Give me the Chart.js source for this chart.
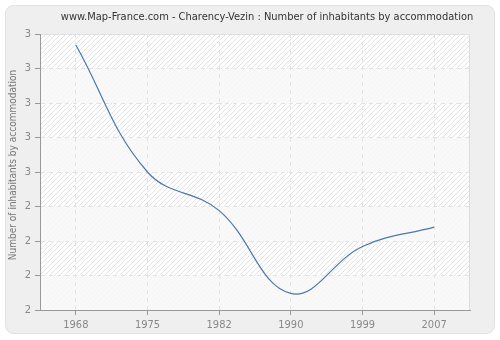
<!DOCTYPE html>
<html lang="en">
<head>
<meta charset="UTF-8" />
<title>Charency-Vezin - inhabitants by accommodation</title>
<script src="https://cdn.jsdelivr.net/npm/chart.js"></script>
<style>
* { box-sizing: border-box; }
body { margin: 0; background: #fff; }
#wrap { position: relative; width: 500px; height: 340px; }
</style>
</head>
<body>
<div id="wrap"><canvas id="popChart" width="500" height="340"></canvas></div>
<script>
// census years and average inhabitants per dwelling
const years = ['1968', '1975', '1982', '1990', '1999', '2007'];
const perHousing = [2.96, 2.50, 2.36, 2.06, 2.23, 2.30];
const yMin = 2, yMax = 3, yStep = 0.125;

const titleText = 'www.Map-France.com - Charency-Vezin : Number of inhabitants by accommodation';
const yTitleText = 'Number of inhabitants by accommodation';
const FONT = "'DejaVu Sans Condensed', 'DejaVu Sans', sans-serif";

// diagonal hatch used as plot background
function makeHatch() {
    const s = 5;
    const c = document.createElement('canvas');
    c.width = s; c.height = s;
    const g = c.getContext('2d');
    g.fillStyle = '#ffffff';
    g.fillRect(0, 0, s, s);
    g.strokeStyle = '#e4e4e4';
    g.lineWidth = 1;
    g.beginPath();
    g.moveTo(0, s); g.lineTo(s, 0);
    g.moveTo(-1, 1); g.lineTo(1, -1);
    g.moveTo(s - 1, s + 1); g.lineTo(s + 1, s - 1);
    g.stroke();
    return g.createPattern(c, 'repeat');
}

function roundRect(ctx, x, y, w, h, r) {
    ctx.beginPath();
    ctx.moveTo(x + r, y);
    ctx.arcTo(x + w, y, x + w, y + h, r);
    ctx.arcTo(x + w, y + h, x, y + h, r);
    ctx.arcTo(x, y + h, x, y, r);
    ctx.arcTo(x, y, x + w, y, r);
    ctx.closePath();
}

const backdrop = {
    id: 'backdrop',
    beforeDraw(chart) {
        const ctx = chart.ctx;
        const a = chart.chartArea;
        const ys = chart.scales.y;
        ctx.save();
        ctx.fillStyle = '#ffffff';
        ctx.fillRect(0, 0, chart.width, chart.height);
        roundRect(ctx, 5.5, 5.5, 489, 328, 8);
        ctx.fillStyle = '#efefef';
        ctx.fill();
        ctx.strokeStyle = '#e2e2e2';
        ctx.lineWidth = 1;
        ctx.stroke();

        ctx.fillStyle = makeHatch();
        ctx.fillRect(a.left, a.top, a.right - a.left, a.bottom - a.top);
        // lighter alternate bands between horizontal grid lines
        ctx.fillStyle = 'rgba(248,248,248,0.85)';
        for (let v = yMin; v < yMax; v += 2 * yStep) {
            const y1 = ys.getPixelForValue(v + yStep);
            const y2 = ys.getPixelForValue(v);
            ctx.fillRect(a.left, y1, a.right - a.left, y2 - y1);
        }
        ctx.strokeStyle = '#dcdcdc';
        ctx.beginPath();
        ctx.moveTo(a.left, a.top + 0.5);
        ctx.lineTo(a.right - 0.5, a.top + 0.5);
        ctx.lineTo(a.right - 0.5, a.bottom);
        ctx.stroke();

        ctx.fillStyle = '#333';
        ctx.font = '11px ' + FONT;
        ctx.textAlign = 'center';
        ctx.textBaseline = 'middle';
        ctx.fillText(titleText, 267, 17);

        ctx.translate(13, 165);
        ctx.rotate(-Math.PI / 2);
        ctx.fillStyle = '#777';
        ctx.font = '10px ' + FONT;
        ctx.fillText(yTitleText, 0, 0);
        ctx.restore();
    }
};

const yTicks = [];
for (let v = yMin; v <= yMax + 1e-9; v += yStep) yTicks.push(v);

new Chart(document.getElementById('popChart'), {
    type: 'line',
    data: {
        labels: years,
        datasets: [{
            data: perHousing,
            borderColor: '#4a78ad',
            borderWidth: 1.2,
            tension: 0.4,
            pointRadius: 0,
            fill: false
        }]
    },
    options: {
        responsive: false,
        animation: false,
        layout: { padding: { top: 34, right: 30, left: 0, bottom: 0 } },
        plugins: { legend: { display: false }, tooltip: { enabled: false } },
        scales: {
            x: {
                offset: true,
                afterFit(s) { s.height = 30; },
                grid: { color: '#e3e3e3', tickColor: '#999', tickLength: 5 },
                border: { color: '#999', dash: [4, 4] },
                ticks: { color: '#888', font: { family: FONT, size: 11 }, padding: 4, maxRotation: 0 }
            },
            y: {
                min: yMin,
                max: yMax,
                afterFit(s) { s.width = 40; },
                afterBuildTicks(s) { s.ticks = yTicks.map(v => ({ value: v })); },
                grid: { color: '#e3e3e3', tickColor: '#999', tickLength: 5 },
                border: { color: '#999', dash: [4, 4] },
                ticks: {
                    color: '#888',
                    font: { family: FONT, size: 11 },
                    padding: 4,
                    callback: v => Math.round(v)
                }
            }
        }
    },
    plugins: [backdrop]
});
</script>
</body>
</html>
